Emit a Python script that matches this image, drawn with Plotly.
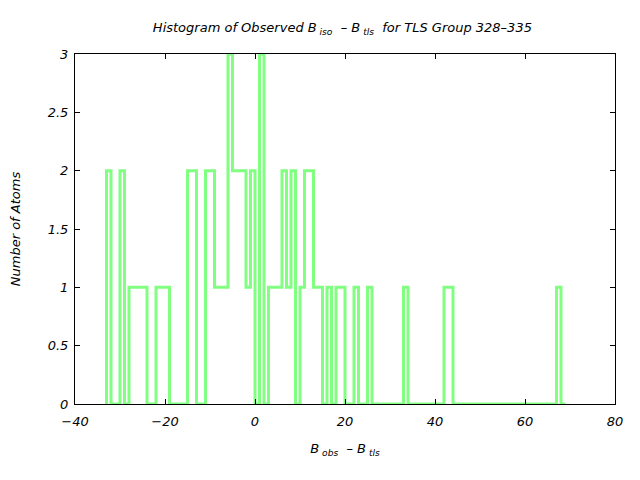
import numpy as np
import plotly.graph_objects as go

# Histogram data (bin width 1, bins labelled by left edge)
nonzero_bins = [-33, -30, -28, -27, -26, -25, -22, -21, -20, -15, -14, -11, -10,
                -9, -8, -7, -6, -5, -4, -3, -2, -1, 1, 3, 4, 5, 6, 7, 8, 10,
                11, 12, 13, 14, 16, 18, 19, 22, 25, 33, 42, 43, 67]
nonzero_counts = [2, 2, 1, 1, 1, 1, 1, 1, 1, 2, 2, 2, 2,
                  1, 1, 1, 3, 2, 2, 2, 1, 2, 3, 1, 1, 1, 2, 1, 2, 1,
                  2, 2, 1, 1, 1, 1, 1, 1, 1, 1, 1, 1, 1]
first_edge = -33
last_edge = 69

x_ticks = [-40, -20, 0, 20, 40, 60, 80]
y_ticks = [0, 0.5, 1, 1.5, 2, 2.5, 3]
y_tick_labels = ["0", "0.5", "1", "1.5", "2", "2.5", "3"]

# build step outline
edges = np.arange(first_edge, last_edge)
counts = np.zeros(len(edges))
for b, c in zip(nonzero_bins, nonzero_counts):
    counts[b - first_edge] = c
xs = [first_edge] + list(edges) + [last_edge]
ys = [0] + list(counts) + [0]

FONT = "DejaVu Sans"

fig = go.Figure()
fig.add_trace(go.Scatter(
    x=xs, y=ys, mode="lines", line_shape="hv",
    line=dict(color="#80ff80", width=3),
    showlegend=False, hoverinfo="skip"))

axis_common = dict(
    showgrid=False, zeroline=False, showline=True, linecolor="black", linewidth=1,
    mirror="ticks", ticks="inside", ticklen=5, tickcolor="black", tickwidth=1,
    tickfont=dict(family=FONT, size=13, color="black", style="italic"),
)

fig.update_layout(
    width=640, height=480,
    paper_bgcolor="white", plot_bgcolor="white",
    margin=dict(l=75, r=25, t=54, b=76),
    font=dict(family=FONT, size=13, color="black", style="italic"),
    title=dict(
        text="Histogram of Observed B<sub> iso</sub>  – B<sub> tls</sub>  for TLS Group 328–335",
        x=0.535, xanchor="center", y=0.943, yanchor="middle",
        font=dict(family=FONT, size=13, style="italic")),
    xaxis=dict(range=[-40, 80], tickvals=x_ticks, ticklabelstandoff=5,
               title=dict(text="B<sub> obs</sub>  – B<sub> tls</sub>", standoff=16,
                          font=dict(family=FONT, size=13, style="italic")),
               **axis_common),
    yaxis=dict(range=[0, 3], tickvals=y_ticks, ticktext=y_tick_labels,
               ticklabelstandoff=3,
               title=dict(text="Number of Atoms", standoff=24,
                          font=dict(family=FONT, size=13, style="italic")),
               **axis_common),
)

fig.write_html("out.html")
